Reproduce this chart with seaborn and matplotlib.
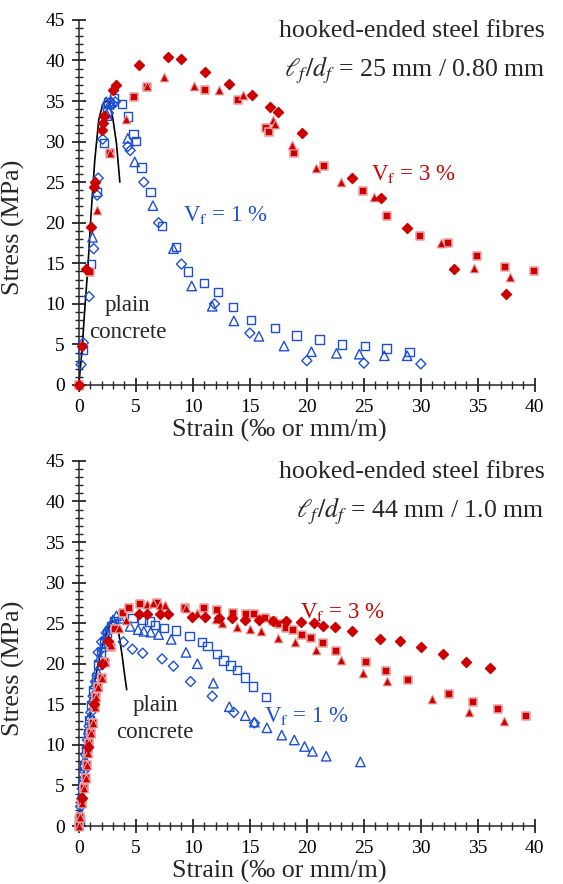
import matplotlib
matplotlib.use("Agg")
import matplotlib.pyplot as plt
from matplotlib.ticker import MultipleLocator
import numpy as np
import pandas as pd
import seaborn as sns

sns.set_style("ticks")
plt.rcParams["font.family"] = ["Liberation Serif", "DejaVu Serif"]
plt.rcParams["mathtext.fontset"] = "stix"

RED = "#CC0000"
RED_EDGE = "#E9A3A3"
BLUE = "#1A4FD6"

# ---------- upper panel: lf/df = 25 mm / 0.80 mm ----------
top_vf3_diamond_x = [0, 0.3, 0.6, 1.05, 1.3, 1.4, 2.05, 2.1, 2.2, 3.0, 3.3, 5.3, 7.8, 9.0,
                     11.1, 13.2, 15.2, 16.8, 17.5, 19.6, 24.0, 26.5, 28.8, 32.9, 37.5]
top_vf3_diamond_y = [0, 4.8, 14.3, 19.5, 24.4, 25.0, 31.4, 32.3, 33.2, 36.4, 37.0, 39.4, 40.4, 40.2,
                     38.6, 37.1, 35.7, 34.3, 33.7, 31.0, 25.5, 23.0, 19.4, 14.3, 11.2]
top_vf3_triangle_x = [0, 1.6, 2.7, 4.1, 6.0, 7.5, 10.1, 12.3, 14.4, 17.0, 17.2, 18.7, 20.8,
                      23.0, 25.9, 31.8, 34.7, 37.8]
top_vf3_triangle_y = [0, 21.6, 28.6, 32.8, 36.8, 37.9, 36.9, 36.3, 35.7, 32.7, 32.2, 29.6, 26.7,
                      25.0, 23.2, 17.5, 14.4, 13.3]
top_vf3_square_x = [0, 0.96, 2.7, 4.8, 6.0, 11.1, 14.0, 16.4, 16.7, 18.9, 21.5, 24.9, 27.0,
                    29.9, 32.4, 34.9, 37.4, 39.9]
top_vf3_square_y = [0, 13.9, 28.6, 35.5, 36.7, 36.4, 35.1, 31.7, 31.2, 28.6, 27.0, 23.9, 20.8,
                    18.4, 17.5, 15.9, 14.5, 14.0]

top_vf1_square_x = [0.35, 1.05, 1.6, 2.2, 2.5, 2.6, 3.1, 3.8, 4.3, 4.8, 5.0, 5.5, 6.3, 7.3,
                    8.5, 9.6, 11.0, 12.2, 13.5, 15.1, 17.2, 19.1, 21.1, 23.1, 25.1, 27.0, 29.0]
top_vf1_square_y = [4.3, 14.9, 23.8, 29.8, 33.6, 34.8, 35.4, 34.6, 33.1, 30.9, 30.1, 26.8, 23.8, 19.6,
                    17.0, 14.0, 12.6, 11.5, 9.6, 8.0, 7.0, 6.1, 5.6, 5.0, 4.8, 4.5, 4.1]
top_vf1_triangle_x = [1.2, 2.4, 2.5, 2.8, 4.3, 4.9, 6.5, 8.3, 9.9, 11.7, 13.6, 15.8, 18.0,
                      20.4, 22.6, 24.6, 26.8, 28.8]
top_vf1_triangle_y = [18.2, 34.9, 33.2, 35.0, 30.4, 27.5, 22.1, 16.8, 12.2, 9.7, 7.9, 6.0, 4.8,
                      4.1, 3.9, 3.8, 3.6, 3.6]
top_vf1_diamond_x = [0.2, 0.4, 0.9, 1.3, 1.6, 1.7, 2.1, 2.6, 3.0, 3.2, 4.3, 4.5, 5.7, 7.0,
                     9.0, 11.9, 15.0, 20.0, 25.0, 30.0]
top_vf1_diamond_y = [2.5, 5.2, 10.9, 16.8, 23.4, 25.5, 30.3, 33.5, 34.6, 34.9, 29.4, 28.9, 25.0, 20.0,
                     14.9, 10.0, 6.4, 3.0, 2.7, 2.6]

top_plain_x = [0, 0.3, 0.5, 0.8, 1.05, 1.4, 1.75, 2.1, 2.4, 2.7, 3.0, 3.3, 3.6]
top_plain_y = [0, 4.6, 8.9, 14.6, 20.6, 27.7, 32.7, 34.6, 35.0, 34.9, 32.7, 29.8, 25.0]

# ---------- lower panel: lf/df = 44 mm / 1.0 mm ----------
bot_vf3_square_x = [0, 0.1, 0.25, 0.45, 0.6, 0.7, 0.8, 0.9, 1.05, 1.2, 1.4, 1.55, 1.7, 2.0,
                    2.3, 2.8, 3.2, 3.9, 4.4, 5.35, 6.9, 9.3, 11.0, 12.1, 13.5, 14.7, 15.4, 16.3,
                    17.0, 17.6, 18.2, 18.8, 19.6, 20.4, 21.4, 22.6, 25.2, 26.9, 28.9, 32.5,
                    34.6, 36.8, 39.2]
bot_vf3_square_y = [0, 1.1, 2.8, 4.7, 5.9, 7.5, 9.0, 10.2, 11.5, 12.7, 14.7, 15.9, 17.1, 18.2,
                    20.2, 22.1, 24.3, 26.3, 26.9, 27.4, 27.5, 26.9, 26.9, 26.6, 26.3, 26.1, 26.1, 25.6,
                    25.3, 24.9, 24.4, 24.1, 23.6, 23.2, 22.6, 21.6, 20.2, 19.1, 18.0, 16.3,
                    15.3, 14.4, 13.5]
bot_vf3_triangle_x = [0, 0.1, 0.25, 0.45, 0.6, 0.7, 0.8, 0.9, 1.05, 1.2, 1.4, 1.55, 1.7, 2.0,
                      2.3, 2.8, 3.5, 4.1, 6.0, 6.5, 7.1, 7.6, 9.4, 10.4, 12.0, 12.6, 13.9, 15.0,
                      16.0, 17.5, 19.0, 20.8, 23.0, 24.9, 27.0, 31.0, 34.2, 37.3]
bot_vf3_triangle_y = [0, 1.1, 2.8, 4.7, 5.9, 7.5, 9.0, 10.2, 11.5, 12.7, 14.7, 15.9, 17.1, 18.2,
                      20.2, 22.3, 24.4, 25.4, 27.4, 27.5, 27.3, 27.3, 26.9, 26.3, 25.5, 25.0, 24.5, 24.3,
                      24.0, 23.2, 22.7, 21.7, 20.5, 18.9, 17.9, 15.6, 14.0, 13.0]
bot_vf3_diamond_x = [0.3, 0.8, 1.3, 2.0, 2.6, 5.3, 6.0, 7.1, 7.8, 9.9, 11.1, 12.3, 13.4, 14.6,
                     15.8, 17.0, 18.2, 19.5, 20.6, 21.4, 22.5, 24.0, 26.4, 28.2, 30.0, 31.9,
                     34.0, 36.1]
bot_vf3_diamond_y = [3.5, 9.8, 15.0, 20.0, 22.8, 26.1, 26.1, 26.1, 26.1, 25.8, 25.8, 25.6, 25.6, 25.4,
                     25.4, 25.3, 25.3, 25.1, 25.0, 24.6, 24.5, 24.0, 23.1, 22.8, 22.1, 21.2,
                     20.2, 19.5]

bot_vf1_square_x = [0.05, 0.2, 0.35, 0.5, 0.65, 0.8, 0.95, 1.1, 1.3, 1.5, 1.7, 1.95, 2.2, 2.5,
                    2.8, 3.1, 4.7, 5.6, 6.2, 6.7, 7.5, 8.5, 9.7, 10.8, 11.3, 12.1, 12.7, 13.3,
                    13.9, 14.6, 15.3, 16.4]
bot_vf1_square_y = [0.8, 3.0, 5.2, 7.4, 9.5, 11.4, 13.1, 14.9, 16.7, 18.3, 19.9, 21.4, 22.6, 23.8,
                    24.6, 25.3, 25.6, 25.4, 25.2, 24.8, 24.4, 24.1, 23.4, 22.7, 22.2, 21.2, 20.4, 19.8,
                    19.2, 18.3, 17.2, 15.9]
bot_vf1_triangle_x = [0.1, 0.25, 0.4, 0.55, 0.7, 0.85, 1.0, 1.2, 1.4, 1.6, 1.85, 2.1, 2.4, 2.7,
                      3.0, 3.3, 3.6, 4.5, 5.2, 5.7, 6.3, 7.0, 8.1, 9.4, 10.4, 11.8, 13.2, 14.6,
                      15.4, 16.5, 17.8, 18.9, 19.8, 20.5, 21.7, 24.7]
bot_vf1_triangle_y = [1.6, 3.9, 6.1, 8.2, 10.1, 11.9, 13.6, 15.7, 17.5, 19.1, 20.8, 22.1, 23.5, 24.6,
                      25.4, 25.9, 25.6, 24.6, 24.2, 24.0, 23.9, 23.6, 23.0, 21.4, 20.0, 17.6, 14.7, 13.6,
                      12.8, 12.1, 11.2, 10.6, 9.8, 9.2, 8.6, 7.9]
bot_vf1_diamond_x = [0.15, 0.3, 0.45, 0.6, 0.75, 0.9, 1.05, 1.25, 1.45, 1.7, 2.0, 2.4, 2.7,
                     3.9, 4.7, 5.6, 7.3, 8.3, 9.8, 11.7, 13.6, 15.4]
bot_vf1_diamond_y = [2.4, 4.6, 6.8, 8.8, 10.6, 12.3, 14.0, 16.0, 17.8, 21.4, 22.7, 23.8, 24.4,
                     22.7, 21.8, 21.3, 20.6, 19.7, 17.8, 16.0, 14.0, 12.7]

bot_plain_x = [0, 0.3, 0.6, 1.0, 1.5, 2.0, 2.5, 2.9, 3.2, 3.5, 3.8, 4.0, 4.2]
bot_plain_y = [0, 4.6, 8.9, 13.8, 18.6, 21.9, 24.1, 25.2, 25.4, 23.8, 21.0, 18.8, 16.8]


def frame(x, y):
    return pd.DataFrame({"strain": x, "stress": y})


def scatter(ax, x, y, marker, filled, colour, size, edge=None, lw=1.0):
    if filled:
        fc, ec = colour, (edge if edge else colour)
    else:
        fc, ec = "none", colour
    sns.scatterplot(data=frame(x, y), x="strain", y="stress", ax=ax, marker=marker,
                    s=size, facecolor=fc, edgecolor=ec, linewidth=lw, clip_on=False,
                    zorder=3, legend=False)


def style_axes(ax):
    ax.set_xlim(0, 40)
    ax.set_ylim(0, 45)
    ax.xaxis.set_major_locator(MultipleLocator(5))
    ax.xaxis.set_minor_locator(MultipleLocator(1))
    ax.yaxis.set_major_locator(MultipleLocator(5))
    ax.yaxis.set_minor_locator(MultipleLocator(1))
    ax.tick_params(which="major", direction="inout", length=10, width=1.1,
                   labelsize=14, colors="black")
    ax.tick_params(axis="x", which="major", pad=5)
    ax.tick_params(axis="y", which="major", pad=5)
    ax.tick_params(which="minor", direction="inout", length=6, width=1.0)
    sns.despine(ax=ax)
    for s in ("left", "bottom"):
        ax.spines[s].set_linewidth(1.1)
    ax.set_xlabel("Strain (‰ or mm/m)", fontsize=18.7)
    ax.set_ylabel("Stress (MPa)", fontsize=18.7)
    ax.xaxis.set_label_coords(0.44, -0.094)
    ax.yaxis.set_label_coords(-0.117, 0.433)


fig = plt.figure(figsize=(5.63, 8.84), dpi=100)
ax1 = fig.add_axes([0.140, 0.5645, 0.810, 0.413])
ax2 = fig.add_axes([0.140, 0.0656, 0.810, 0.413])

# upper panel
sns.lineplot(data=frame(top_plain_x, top_plain_y), x="strain", y="stress", ax=ax1,
             sort=False, estimator=None, color="black", linewidth=1.2, zorder=2)
scatter(ax1, top_vf1_square_x, top_vf1_square_y, "s", False, BLUE, 36)
scatter(ax1, top_vf1_triangle_x, top_vf1_triangle_y, "^", False, BLUE, 46)
scatter(ax1, top_vf1_diamond_x, top_vf1_diamond_y, "D", False, BLUE, 26)
scatter(ax1, top_vf3_square_x, top_vf3_square_y, "s", True, RED, 34, RED_EDGE, 1.2)
scatter(ax1, top_vf3_triangle_x, top_vf3_triangle_y, "^", True, RED, 40, RED_EDGE, 0.8)
scatter(ax1, top_vf3_diamond_x, top_vf3_diamond_y, "D", True, RED, 26)

# lower panel
sns.lineplot(data=frame(bot_plain_x, bot_plain_y), x="strain", y="stress", ax=ax2,
             sort=False, estimator=None, color="black", linewidth=1.2, zorder=2)
scatter(ax2, bot_vf1_square_x, bot_vf1_square_y, "s", False, BLUE, 36)
scatter(ax2, bot_vf1_triangle_x, bot_vf1_triangle_y, "^", False, BLUE, 46)
scatter(ax2, bot_vf1_diamond_x, bot_vf1_diamond_y, "D", False, BLUE, 26)
scatter(ax2, bot_vf3_square_x, bot_vf3_square_y, "s", True, RED, 34, RED_EDGE, 1.2)
scatter(ax2, bot_vf3_triangle_x, bot_vf3_triangle_y, "^", True, RED, 40, RED_EDGE, 0.8)
scatter(ax2, bot_vf3_diamond_x, bot_vf3_diamond_y, "D", True, RED, 26)

for ax in (ax1, ax2):
    style_axes(ax)

TITLE_FS = 18.6
LABEL_FS = 16.5

# annotations, upper panel
ax1.text(1.022, 1.0, "hooked-ended steel fibres", transform=ax1.transAxes,
         ha="right", va="top", fontsize=TITLE_FS)
ax1.text(1.022, 0.905, r"$\ell_f/d_f$ = 25 mm / 0.80 mm", transform=ax1.transAxes,
         ha="right", va="top", fontsize=TITLE_FS)
ax1.text(25.6, 26.0, r"V$_\mathrm{f}$ = 3 %", color=RED, fontsize=LABEL_FS, ha="left", va="center")
ax1.text(9.1, 21.0, r"V$_\mathrm{f}$ = 1 %", color=BLUE, fontsize=LABEL_FS, ha="left", va="center")
ax1.text(4.3, 8.1, "plain\nconcrete", fontsize=16.5, ha="center", va="center",
         linespacing=1.35)

# annotations, lower panel
ax2.text(1.022, 1.0, "hooked-ended steel fibres", transform=ax2.transAxes,
         ha="right", va="top", fontsize=TITLE_FS)
ax2.text(1.022, 0.905, r"$\ell_f/d_f$ = 44 mm / 1.0 mm", transform=ax2.transAxes,
         ha="right", va="top", fontsize=TITLE_FS)
ax2.text(19.4, 26.4, r"V$_\mathrm{f}$ = 3 %", color=RED, fontsize=LABEL_FS, ha="left", va="center")
ax2.text(16.2, 13.5, r"V$_\mathrm{f}$ = 1 %", color=BLUE, fontsize=LABEL_FS, ha="left", va="center")
ax2.text(6.7, 13.2, "plain\nconcrete", fontsize=16.5, ha="center", va="center",
         linespacing=1.35)

fig.savefig("out.png", dpi=100)
